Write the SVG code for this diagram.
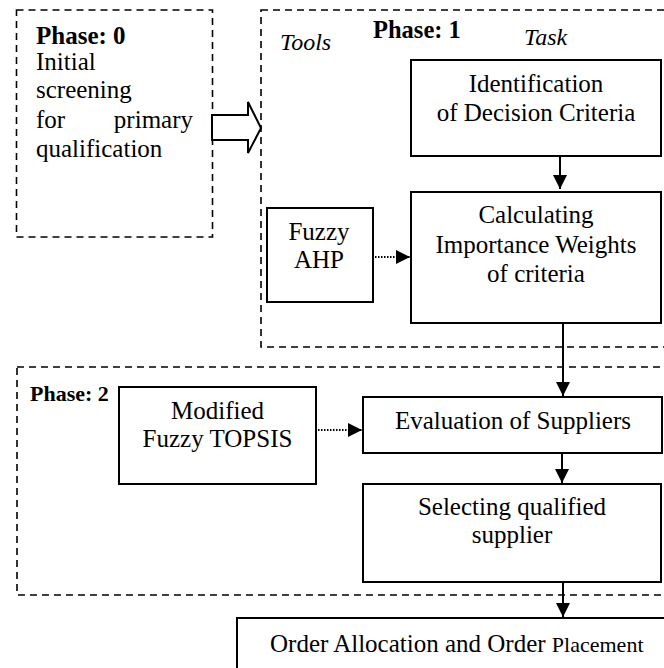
<svg xmlns="http://www.w3.org/2000/svg" width="664" height="668" viewBox="0 0 664 668">
<defs>
<marker id="ah" viewBox="0 0 14 14" markerWidth="14" markerHeight="14" refX="14" refY="7" orient="auto" markerUnits="userSpaceOnUse">
<path d="M0,0 L14,7 L0,14 Z" fill="#000"/>
</marker>
</defs>
<style>
.phase{fill:none;stroke:#000;stroke-width:1.6;stroke-dasharray:7,5}
.box{fill:#fff;stroke:#000;stroke-width:2}
.t{font-size:25px;fill:#000}
.c{text-anchor:middle}
.b{font-weight:bold}
.i{font-style:italic}
.edge{stroke:#000;stroke-width:2;fill:none}
.dot{stroke:#000;stroke-width:2;fill:none;stroke-dasharray:1.5,1.5}
</style>
<rect width="664" height="668" fill="#fff"/>
<g font-family="'Liberation Serif', 'DejaVu Serif', serif">

<g id="phase0">
<rect class="phase" x="16.5" y="10" width="196" height="227"/>
<text class="t b" x="36" y="44">Phase: 0</text>
<text class="t" x="36" y="70">Initial</text>
<text class="t" x="36" y="98">screening</text>
<text class="t" x="36" y="128">for</text>
<text class="t" x="193" y="128" text-anchor="end">primary</text>
<text class="t" x="36" y="157">qualification</text>
</g>

<g id="phase1">
<rect class="phase" x="261" y="10" width="420" height="337"/>
<text class="t i" x="280" y="50" style="font-size:24px">Tools</text>
<text class="t b" x="373" y="38" style="font-size:24.5px">Phase: 1</text>
<text class="t i" x="524" y="45" style="font-size:24px">Task</text>
</g>

<g id="phase2">
<rect class="phase" x="17" y="367" width="664" height="228"/>
<text class="t b" x="30" y="401" style="font-size:22px">Phase: 2</text>
</g>

<g id="block-arrow">
<polygon points="212,115 248,115 248,102 261,128 248,153 248,140 212,140" fill="#fff" stroke="#000" stroke-width="2"/>
</g>

<g id="identification">
<rect class="box" x="411" y="60" width="250" height="96"/>
<text class="t c" x="536" y="92">Identification</text>
<text class="t c" x="536" y="121">of Decision Criteria</text>
</g>

<g id="calculating">
<rect class="box" x="411" y="192" width="250" height="131"/>
<text class="t c" x="536" y="223">Calculating</text>
<text class="t c" x="536" y="253">Importance Weights</text>
<text class="t c" x="536" y="282">of criteria</text>
</g>

<g id="fuzzy-ahp">
<rect class="box" x="267" y="208" width="106" height="94"/>
<text class="t c" x="319" y="240">Fuzzy</text>
<text class="t c" x="319" y="268">AHP</text>
</g>

<g id="topsis">
<rect class="box" x="119" y="387" width="197" height="97"/>
<text class="t c" x="217.5" y="419">Modified</text>
<text class="t c" x="217.5" y="447">Fuzzy TOPSIS</text>
</g>

<g id="evaluation">
<rect class="box" x="363" y="397" width="299" height="56"/>
<text class="t c" x="513" y="429">Evaluation of Suppliers</text>
</g>

<g id="selecting">
<rect class="box" x="363" y="484" width="298" height="98"/>
<text class="t c" x="512" y="515">Selecting qualified</text>
<text class="t c" x="512" y="543">supplier</text>
</g>

<g id="order">
<rect class="box" x="237" y="618" width="450" height="70"/>
<text class="t" x="270" y="652">Order Allocation and Order <tspan style="font-size:22px">Placement</tspan></text>
</g>

</g>
<g id="connectors">
<line class="edge" x1="560" y1="156" x2="560" y2="189" marker-end="url(#ah)"/>
<line class="dot" x1="375" y1="257" x2="410" y2="257" marker-end="url(#ah)"/>
<line class="edge" x1="563" y1="323" x2="563" y2="396" marker-end="url(#ah)"/>
<line class="dot" x1="318" y1="430" x2="362" y2="430" marker-end="url(#ah)"/>
<line class="edge" x1="562" y1="453" x2="562" y2="483" marker-end="url(#ah)"/>
<line class="edge" x1="563" y1="582" x2="563" y2="617" marker-end="url(#ah)"/>
</g>
</svg>
